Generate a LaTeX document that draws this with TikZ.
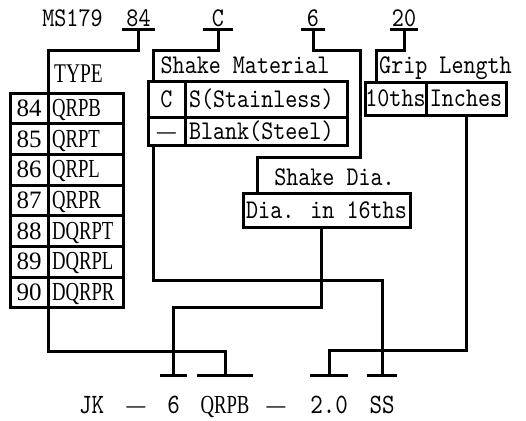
\documentclass[tikz,border=0pt]{standalone}
\usepackage{fontspec}
\usetikzlibrary{positioning}
\newfontfamily\codefont[FakeStretch=0.85]{lmmono10-regular.otf}
\newfontfamily\typefont[FakeStretch=0.72]{Liberation Serif}
\newfontfamily\numfont{Liberation Serif}

\begin{document}
\begin{tikzpicture}[
				x=1pt,y=-1pt,
				wire/.style={line width=3pt},
				code/.style={font=\codefont\fontsize{27}{27}\selectfont},
				type/.style={font=\typefont\fontsize{26}{26}\selectfont},
				num/.style={font=\numfont\fontsize{25}{25}\selectfont},
				cell/.style={draw,line width=3pt,inner sep=0pt,outer sep=0pt,text height=16pt,text depth=0pt},
				head/.style={code,anchor=south,inner sep=0pt,text height=16pt,text depth=3pt},
				foot/.style={code,font=\codefont\fontsize{28}{28}\selectfont,anchor=north,inner sep=0pt,text height=38pt,text depth=0pt}
				]
				\useasboundingbox (0,0) rectangle (526,420);
				
				% part number on top
				\node[head] (ms) at (72.5,30) {MS179};
				\node[head,minimum width=33pt] (p84) at (138.5,30) {84};
				\node[head,minimum width=30pt] (pC) at (218,30) {C};
				\node[head,minimum width=24pt] (p6) at (313,30) {6};
				\node[head,minimum width=28pt] (p20) at (404,30) {20};
				\foreach \n in {p84,pC,p6,p20}
					\draw[wire] (\n.south west) -- (\n.south east);
				
				% type table
				\node[type,font=\typefont\fontsize{27}{27}\selectfont,anchor=base] (tlab) at (78.5,82) {TYPE};
				\foreach \num/\name [count=\i] in {84/QRPB,85/QRPT,86/QRPL,87/QRPR,88/DQRPT,89/DQRPL,90/DQRPR} {
					\node[cell,num,anchor=north west,minimum width=38pt,minimum height=30.7pt] (n\i) at (10,{93+30.7*(\i-1)}) {\num};
					\node[cell,type,right=0pt of n\i,minimum height=30.7pt,text width=67pt,inner xsep=4pt,align=left] (t\i) {\name};
				}
				
				% shake material
				\node[code,anchor=base] (mlab) at (245,73) {Shake Material};
				\node[cell,code,anchor=north west,minimum width=37pt,minimum height=36pt] (mc1) at (148,81) {C};
				\node[cell,code,right=0pt of mc1,minimum height=36pt,text width=154pt,inner xsep=4pt,align=left] (mt1) {S(Stainless)};
				\node[cell,type,below=0pt of mc1,minimum width=37pt,minimum height=28pt] (mc2) {—};
				\node[cell,code,right=0pt of mc2,minimum height=28pt,text width=154pt,inner xsep=4pt,align=left] (mt2) {Blank(Steel)};
				
				% grip length
				\node[code,anchor=base] (glab) at (445.5,73) {Grip Length};
				\node[cell,code,anchor=north west,minimum width=61pt,minimum height=33pt] (g1) at (365,82) {10ths};
				\node[cell,code,right=0pt of g1,minimum width=80pt,minimum height=33pt] (g2) {Inches};
				
				% shake dia
				\node[code,anchor=base] (sdlab) at (334.5,185) {Shake Dia.};
				\node[cell,code,anchor=north west,minimum width=167pt,minimum height=34pt] (sd) at (243,193) {Dia. in 16ths};
				
				% example part number
				\node[foot] (jk) at (91.5,375) {JK};
				\node[foot,type] (d1) at (136,375) {—};
				\node[foot,minimum width=27pt] (f6) at (173.5,375) {6};
				\node[foot,type,minimum width=56pt] (fq) at (225,375) {QRPB};
				\node[foot,type] (d2) at (276,375) {—};
				\node[foot,minimum width=38pt] (f20) at (329,375) {2.0};
				\node[foot,minimum width=30pt] (fs) at (382,375) {SS};
				\foreach \n in {f6,fq,f20,fs}
					\draw[wire] (\n.north west) -- (\n.north east);
				
				% lines
				\draw[wire] (p84.south) -- ++(0,20) -| (t1.north west);
				\draw[wire] (pC.south) -- ++(0,20) -| ([xshift=5pt]mc1.north west);
				\draw[wire] (p6.south) -- ++(0,20) -- ++(47,0) -- ++(0,107) -| ([xshift=14pt]sd.north west);
				\draw[wire] (p20.south) -- ++(0,20) -| ([xshift=11pt]g1.north west);
				\draw[wire] (t7.south west) -- ++(0,44) -| (fq.north);
				\draw[wire] ([xshift=5pt]mc2.south west) -- ++(0,135) -| (fs.north);
				\draw[wire] ([xshift=-5pt]sd.south) -- ++(0,80) -| (f6.north);
				\draw[wire] (g2.south) -- ++(0,235) -| (f20.north);
				
			\end{tikzpicture}
\end{document}
